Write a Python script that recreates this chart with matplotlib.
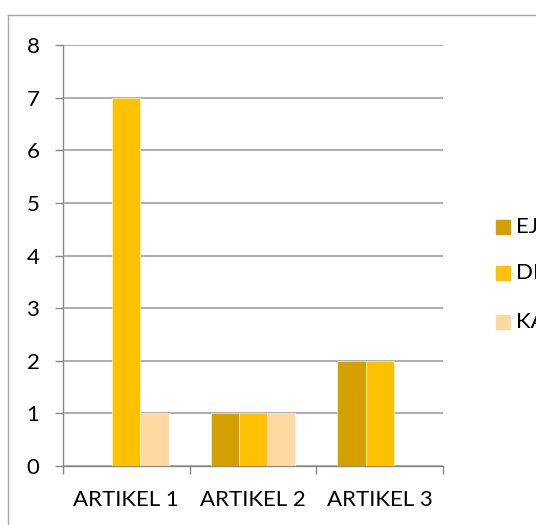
import matplotlib
matplotlib.use("Agg")
import matplotlib.pyplot as plt
import numpy as np
from matplotlib.lines import Line2D
from matplotlib.patches import Rectangle

plt.rcParams["font.family"] = ["Lato", "DejaVu Sans"]

# data
categories = ["ARTIKEL 1", "ARTIKEL 2", "ARTIKEL 3"]
series_names = ["EJ", "DELVIS", "KAN"]
series_values = [
    [0, 1, 2],
    [7, 1, 2],
    [1, 1, 0],
]
colors = ["#D4A000", "#FFC000", "#FFD8A0"]

W, H = 536, 525
fig = plt.figure(figsize=(W / 100, H / 100), dpi=100)
ax = fig.add_axes([63 / W, 1 - 466 / H, (443 - 63) / W, (466 - 45) / H])

x = np.arange(len(categories))
bw = 1 / 4.5  # excel gap width 150%
for i, (name, vals, col) in enumerate(zip(series_names, series_values, colors)):
    ax.bar(x + (i - 1) * bw, vals, width=bw, color=col, edgecolor="white", linewidth=0.4, zorder=3)

ax.set_xlim(-0.5, len(categories) - 0.5)
ax.set_ylim(0, 8)
ax.set_yticks(range(0, 9))
ax.yaxis.grid(True, color="#A0A0A0", linewidth=1.2, zorder=0)
ax.set_axisbelow(True)

ax.set_xticks(x)
ax.set_xticklabels(categories)
ax.set_xticks(np.arange(-0.5, len(categories)), minor=True)
ax.tick_params(axis="x", which="major", length=0, pad=17, labelsize=16)
ax.tick_params(axis="x", which="minor", length=6, color="#888888", width=1)
ax.tick_params(axis="y", length=6, color="#888888", width=1, pad=11, labelsize=16)

for side in ["top", "right"]:
    ax.spines[side].set_visible(False)
for side in ["left", "bottom"]:
    ax.spines[side].set_color("#888888")
    ax.spines[side].set_linewidth(1)

# legend (cut by the right edge like the source)
leg_y = [227, 273, 322]
for name, col, yy in zip(series_names, colors, leg_y):
    fig.add_artist(Rectangle((496 / W, 1 - (yy + 7) / H), 14 / W, 14 / H,
                             transform=fig.transFigure, color=col))
    fig.text(516 / W, 1 - yy / H, name, fontsize=16, va="center", ha="left")

# chart frame
fig.add_artist(Line2D([8 / W, 8 / W], [0, 1 - 15 / H], transform=fig.transFigure, color="#A6A6A6", linewidth=1))
fig.add_artist(Line2D([8 / W, 1], [1 - 15 / H, 1 - 15 / H], transform=fig.transFigure, color="#A6A6A6", linewidth=1))

fig.savefig("out.png", dpi=100)
